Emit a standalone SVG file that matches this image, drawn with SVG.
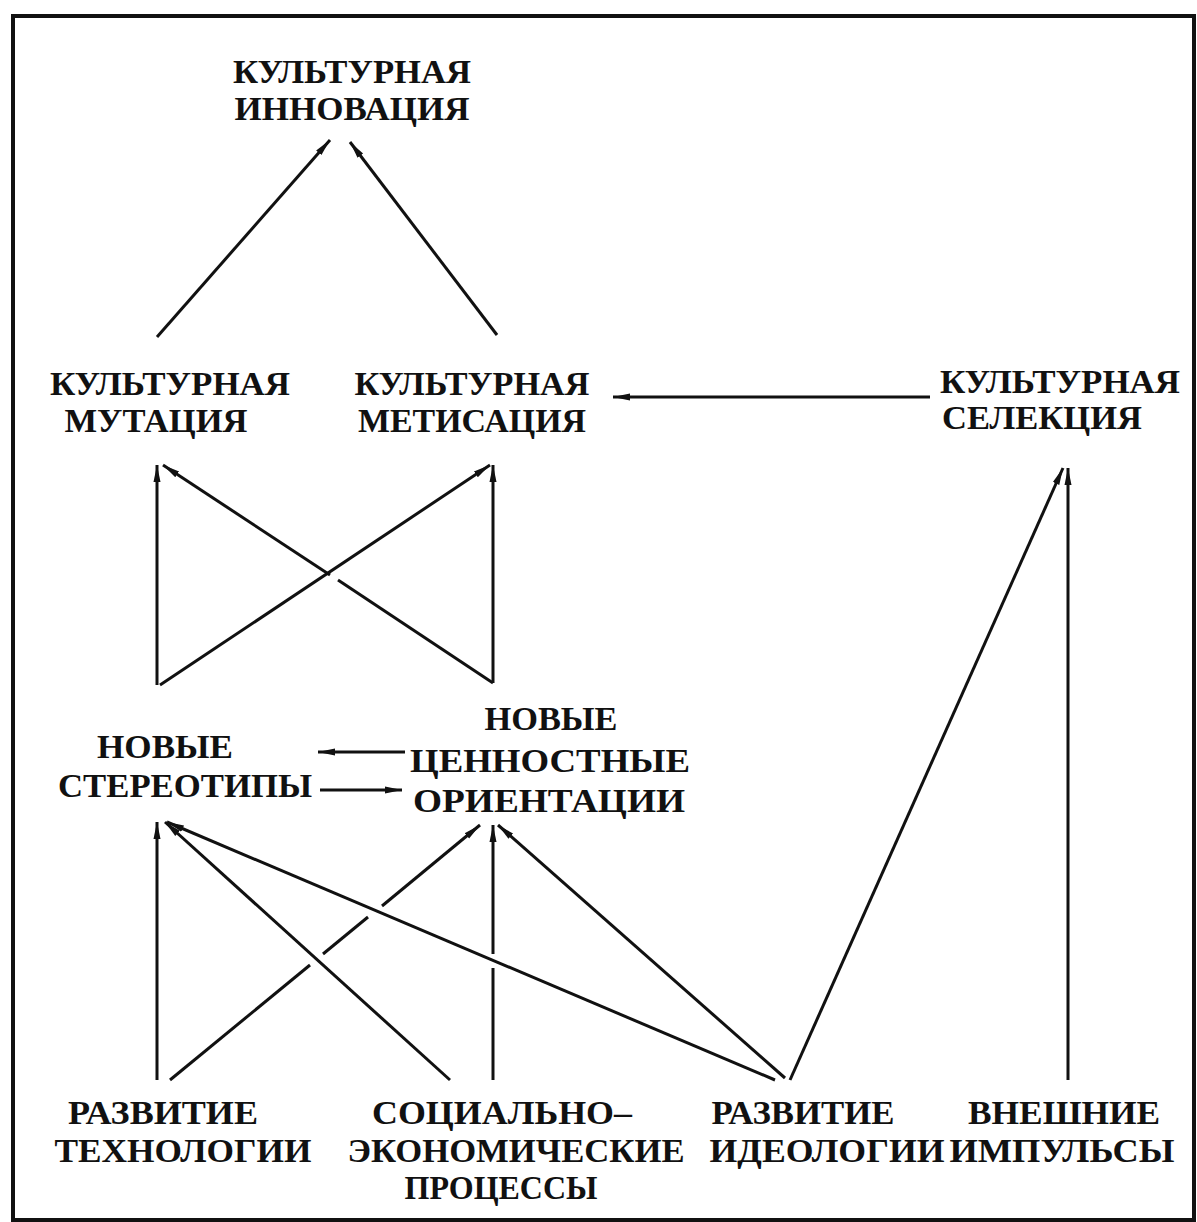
<svg xmlns="http://www.w3.org/2000/svg" width="1197" height="1222" viewBox="0 0 1197 1222">
<style>
text{font-family:"Liberation Serif","Times New Roman",serif;font-weight:bold;font-size:33px;fill:#111;text-anchor:middle}
.c line{stroke:#111;stroke-width:3;fill:none}
.a{marker-end:url(#ah)}
</style>
<defs>
<marker id="ah" markerUnits="userSpaceOnUse" markerWidth="20" markerHeight="10" viewBox="0 -5 20 10" refX="17" refY="0" orient="auto">
<path d="M0,-3.5 L17,0 L0,3.5 z" fill="#111"/>
</marker>
</defs>
<rect x="0" y="0" width="1197" height="1222" fill="#fff"/>
<rect x="13" y="16" width="1181" height="1204" fill="none" stroke="#111" stroke-width="4"/>
<g id="innovation"><text x="352" y="83" textLength="238" lengthAdjust="spacingAndGlyphs">КУЛЬТУРНАЯ</text><text x="352" y="120" textLength="235" lengthAdjust="spacingAndGlyphs">ИННОВАЦИЯ</text></g>
<g id="mutation"><text x="170" y="395" textLength="240" lengthAdjust="spacingAndGlyphs">КУЛЬТУРНАЯ</text><text x="156" y="432" textLength="183" lengthAdjust="spacingAndGlyphs">МУТАЦИЯ</text></g>
<g id="metisation"><text x="472" y="395" textLength="235" lengthAdjust="spacingAndGlyphs">КУЛЬТУРНАЯ</text><text x="472" y="432" textLength="228" lengthAdjust="spacingAndGlyphs">МЕТИСАЦИЯ</text></g>
<g id="selection"><text x="1060" y="393" textLength="240" lengthAdjust="spacingAndGlyphs">КУЛЬТУРНАЯ</text><text x="1042" y="429" textLength="200" lengthAdjust="spacingAndGlyphs">СЕЛЕКЦИЯ</text></g>
<g id="stereotypes"><text x="165" y="758" textLength="136" lengthAdjust="spacingAndGlyphs">НОВЫЕ</text><text x="185" y="797" textLength="254" lengthAdjust="spacingAndGlyphs">СТЕРЕОТИПЫ</text></g>
<g id="values"><text x="551" y="730" textLength="133" lengthAdjust="spacingAndGlyphs">НОВЫЕ</text><text x="550" y="772" textLength="280" lengthAdjust="spacingAndGlyphs">ЦЕННОСТНЫЕ</text><text x="549" y="812" textLength="272" lengthAdjust="spacingAndGlyphs">ОРИЕНТАЦИИ</text></g>
<g id="technology"><text x="163" y="1124" textLength="190" lengthAdjust="spacingAndGlyphs">РАЗВИТИЕ</text><text x="183" y="1162" textLength="257" lengthAdjust="spacingAndGlyphs">ТЕХНОЛОГИИ</text></g>
<g id="socioeconomic"><text x="502" y="1124" textLength="260" lengthAdjust="spacingAndGlyphs">СОЦИАЛЬНО–</text><text x="516" y="1162" textLength="337" lengthAdjust="spacingAndGlyphs">ЭКОНОМИЧЕСКИЕ</text><text x="501" y="1199" textLength="193" lengthAdjust="spacingAndGlyphs">ПРОЦЕССЫ</text></g>
<g id="ideology"><text x="803" y="1124" textLength="183" lengthAdjust="spacingAndGlyphs">РАЗВИТИЕ</text><text x="827" y="1162" textLength="235" lengthAdjust="spacingAndGlyphs">ИДЕОЛОГИИ</text></g>
<g id="external"><text x="1064" y="1124" textLength="192" lengthAdjust="spacingAndGlyphs">ВНЕШНИЕ</text><text x="1062" y="1162" textLength="225" lengthAdjust="spacingAndGlyphs">ИМПУЛЬСЫ</text></g>
<g id="connectors" class="c">
<line class="a" x1="157" y1="337" x2="330" y2="140"/>
<line class="a" x1="497" y1="335" x2="350" y2="142"/>
<line class="a" x1="930" y1="397" x2="613" y2="397"/>
<line class="a" x1="157" y1="685" x2="157" y2="465"/>
<line class="a" x1="160" y1="685" x2="490" y2="465"/>
<line class="a" x1="330" y1="575" x2="163" y2="465"/>
<line x1="493" y1="683" x2="338" y2="580"/>
<line class="a" x1="493" y1="683" x2="493" y2="465"/>
<line class="a" x1="405" y1="752" x2="318" y2="752"/>
<line class="a" x1="320" y1="790" x2="402" y2="790"/>
<line class="a" x1="157" y1="1080" x2="157" y2="822"/>
<line x1="170" y1="1080" x2="310" y2="965"/>
<line x1="323" y1="954" x2="368" y2="917"/>
<line class="a" x1="382" y1="906" x2="480" y2="825"/>
<line class="a" x1="450" y1="1080" x2="165" y2="822"/>
<line x1="493" y1="1080" x2="493" y2="968"/>
<line class="a" x1="493" y1="954" x2="493" y2="825"/>
<line class="a" x1="775" y1="1080" x2="167" y2="822"/>
<line class="a" x1="785" y1="1078" x2="498" y2="825"/>
<line class="a" x1="790" y1="1080" x2="1063" y2="468"/>
<line class="a" x1="1068" y1="1080" x2="1068" y2="468"/>
</g>
</svg>
